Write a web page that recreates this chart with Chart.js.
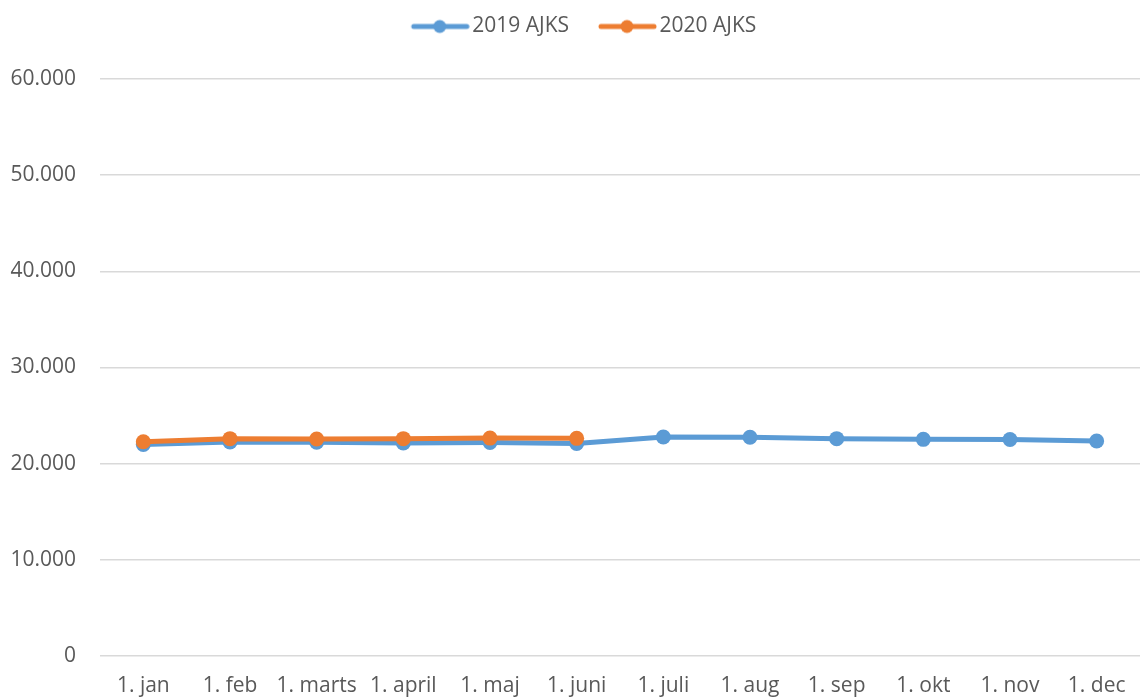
<!DOCTYPE html>
<html>
<head>
<meta charset="utf-8">
<script src="https://cdn.jsdelivr.net/npm/chart.js@4/dist/chart.umd.min.js"></script>
<style>
  html, body { margin: 0; padding: 0; background: #ffffff; }
  #wrap { width: 1140px; height: 700px; position: relative; }
</style>
</head>
<body>
<div id="wrap"><canvas id="c" width="1140" height="700"></canvas></div>
<script>
const categories = ["1. jan", "1. feb", "1. marts", "1. april", "1. maj", "1. juni", "1. juli", "1. aug", "1. sep", "1. okt", "1. nov", "1. dec"];
const series2019 = [22000, 22250, 22220, 22160, 22200, 22100, 22770, 22740, 22600, 22530, 22520, 22350];
const series2020 = [22280, 22600, 22560, 22600, 22660, 22630, null, null, null, null, null, null];
const seriesNames = ["2019 AJKS", "2020 AJKS"];
const seriesColors = ["#5B9BD5", "#ED7D31"];
const yTicks = [0, 10000, 20000, 30000, 40000, 50000, 60000];

const FONT = "'Open Sans', 'DejaVu Sans', sans-serif";
const TEXT = "#595959";

function fmt(v) {
  return String(v).replace(/\B(?=(\d{3})+(?!\d))/g, ".");
}

function legendIcon(color) {
  const cv = document.createElement("canvas");
  cv.width = 86; cv.height = 16;
  const g = cv.getContext("2d");
  g.strokeStyle = color;
  g.lineWidth = 5;
  g.lineCap = "round";
  g.beginPath(); g.moveTo(30, 8); g.lineTo(83, 8); g.stroke();
  g.fillStyle = color;
  g.beginPath(); g.arc(56, 8, 6.5, 0, Math.PI * 2); g.fill();
  return cv;
}
const icons = seriesColors.map(legendIcon);

new Chart(document.getElementById("c"), {
  type: "line",
  data: {
    labels: categories,
    datasets: [
      {
        label: seriesNames[0], data: series2019, order: 1, xAxisID: "x", yAxisID: "y",
        borderColor: seriesColors[0], backgroundColor: seriesColors[0],
        borderWidth: 5, pointRadius: 7.5, pointHoverRadius: 7.5, pointBorderWidth: 0,
        tension: 0, fill: false
      },
      {
        label: seriesNames[1], data: series2020, order: 0, xAxisID: "x", yAxisID: "y",
        borderColor: seriesColors[1], backgroundColor: seriesColors[1],
        borderWidth: 5, pointRadius: 7.5, pointHoverRadius: 7.5, pointBorderWidth: 0,
        tension: 0, fill: false, spanGaps: false
      }
    ]
  },
  options: {
    responsive: false,
    animation: false,
    devicePixelRatio: 1,
    layout: { autoPadding: false, padding: { left: 8, right: 0, top: 6, bottom: 0 } },
    plugins: {
      tooltip: { enabled: false },
      legend: {
        display: true,
        position: "top",
        labels: {
          usePointStyle: true,
          pointStyleWidth: 70,
          padding: 10,
          color: TEXT,
          font: { family: FONT, size: 21 },
          generateLabels: (chart) => chart.data.datasets.map((ds, i) => ({
            text: ds.label,
            pointStyle: icons[i],
            fillStyle: ds.borderColor,
            strokeStyle: ds.borderColor,
            lineWidth: 0,
            fontColor: TEXT,
            hidden: false,
            datasetIndex: i
          }))
        }
      }
    },
    scales: {
      xTop: {
        type: "category",
        position: "top",
        display: true,
        offset: true,
        grid: { display: false, drawTicks: false },
        border: { display: false },
        ticks: { display: false },
        afterFit: (s) => { s.height = 32; s.paddingLeft = 0; s.paddingRight = 0; }
      },
      x: {
        type: "category",
        position: "bottom",
        offset: true,
        grid: { display: false, drawTicks: false },
        border: { display: false },
        ticks: { color: TEXT, font: { family: FONT, size: 21 }, padding: 17, maxRotation: 0, autoSkip: false },
        afterFit: (s) => { s.height = 44; s.paddingLeft = 0; s.paddingRight = 0; }
      },
      y: {
        min: 0, max: 60000,
        afterBuildTicks: (s) => { s.ticks = yTicks.map(v => ({ value: v })); },
        grid: { color: "#d9d9d9", lineWidth: 1.5, drawTicks: false },
        border: { display: false },
        ticks: { color: TEXT, font: { family: FONT, size: 21 }, padding: 24, callback: (v) => fmt(v) },
        afterFit: (s) => { s.width = 92; }
      }
    }
  }
});
</script>
</body>
</html>
